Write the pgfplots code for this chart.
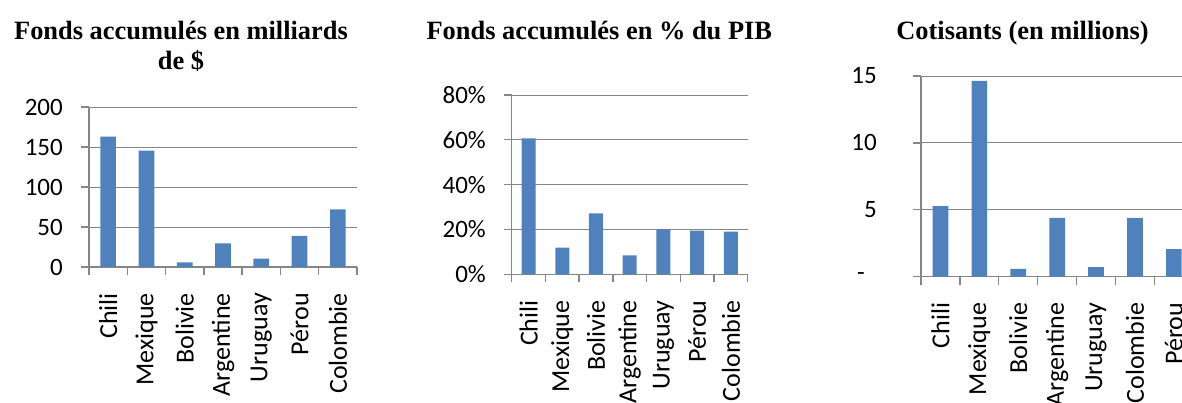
\documentclass[border=0pt]{standalone}
\usepackage{fontspec}
\setmainfont{Carlito}
\newfontfamily\titlefont{Liberation Serif}
\usepackage{pgfplots}
\pgfplotsset{compat=1.18}
\definecolor{barblue}{HTML}{4F81BD}
\definecolor{gridgray}{HTML}{868686}
\pgfplotsset{
  excelbar/.style={
    scale only axis,
    xmin=-0.5, xmax=6.5, ymin=0,
    axis x line*=bottom, axis y line*=left,
    ybar,
    ymajorgrids,
    grid style={gridgray, line width=1pt},
    axis line style={gridgray, line width=1.3pt},
    tick style={gridgray, line width=1.3pt},
    tick align=outside,
    major tick length=8pt,
    xtick={-0.5,0.5,...,6.5},
    xticklabels={,,,,,,,},
    extra x ticks={0,1,2,3,4,5,6},
    extra x tick style={major tick length=0pt, grid=none},
    extra x tick labels={Chili,Mexique,Bolivie,Argentine,Uruguay,Pérou,Colombie},
    tick label style={font=\fontsize{25}{30}\selectfont, text=black, inner sep=0pt},
    xticklabel style={font=\fontsize{26}{31}\selectfont, yshift=-26pt, rotate=90, anchor=east},
    yticklabel style={anchor=east},
    clip=false,
  }
}
\begin{document}
\begin{tikzpicture}[x=1pt,y=1pt]
\useasboundingbox (0,0) rectangle (1182,402);
\clip (0,0) rectangle (1182,402);
% Chart 1
\begin{axis}[excelbar, at={(89pt,135pt)}, anchor=south west,
  width=268pt, height=160pt, ymax=200, bar width=15.7pt,
  ytick={0,50,100,150,200}, yticklabels={0,50,100,150,200},
  yticklabel style={xshift=-18pt}]
\addplot[fill=barblue, draw=none] coordinates {(0,162.9) (1,145.4) (2,5.8) (3,29.6) (4,10.4) (5,38.8) (6,72.1)};
\end{axis}
% Chart 2
\begin{axis}[excelbar, at={(511.7pt,127.7pt)}, anchor=south west,
  width=236pt, height=179.3pt, ymax=80, bar width=14pt,
  ytick={0,20,40,60,80}, yticklabels={0\%,20\%,40\%,60\%,80\%},
  yticklabel style={xshift=-17.7pt}]
\addplot[fill=barblue, draw=none] coordinates {(0,60.7) (1,11.9) (2,27.2) (3,8.5) (4,20.1) (5,19.5) (6,19.0)};
\end{axis}
% Chart 3
\begin{axis}[excelbar, at={(921pt,125.3pt)}, anchor=south west,
  width=272.3pt, height=200.7pt, ymax=15, bar width=15.7pt,
  ytick={0,5,10,15}, yticklabels={{-\hbox to 12pt{}},5,10,15},
  extra x tick labels={Chili,Mexique,Bolivie,Argentine,Uruguay,Colombie,Pérou},
  yticklabel style={xshift=-36pt}]
\addplot[fill=barblue, draw=none] coordinates {(0,5.28) (1,14.63) (2,0.58) (3,4.39) (4,0.72) (5,4.39) (6,2.07)};
\end{axis}
\begin{scope}[font=\titlefont\bfseries\fontsize{26.4}{31}\selectfont]
\node[anchor=base] at (181,362) {Fonds accumulés en milliards};
\node[anchor=base] at (181,332.7) {de \$};
\node[anchor=base] at (599.3,362) {Fonds accumulés en \% du PIB};
\node[anchor=base] at (1022.5,362) {Cotisants (en millions)};
\end{scope}
\end{tikzpicture}
\end{document}
